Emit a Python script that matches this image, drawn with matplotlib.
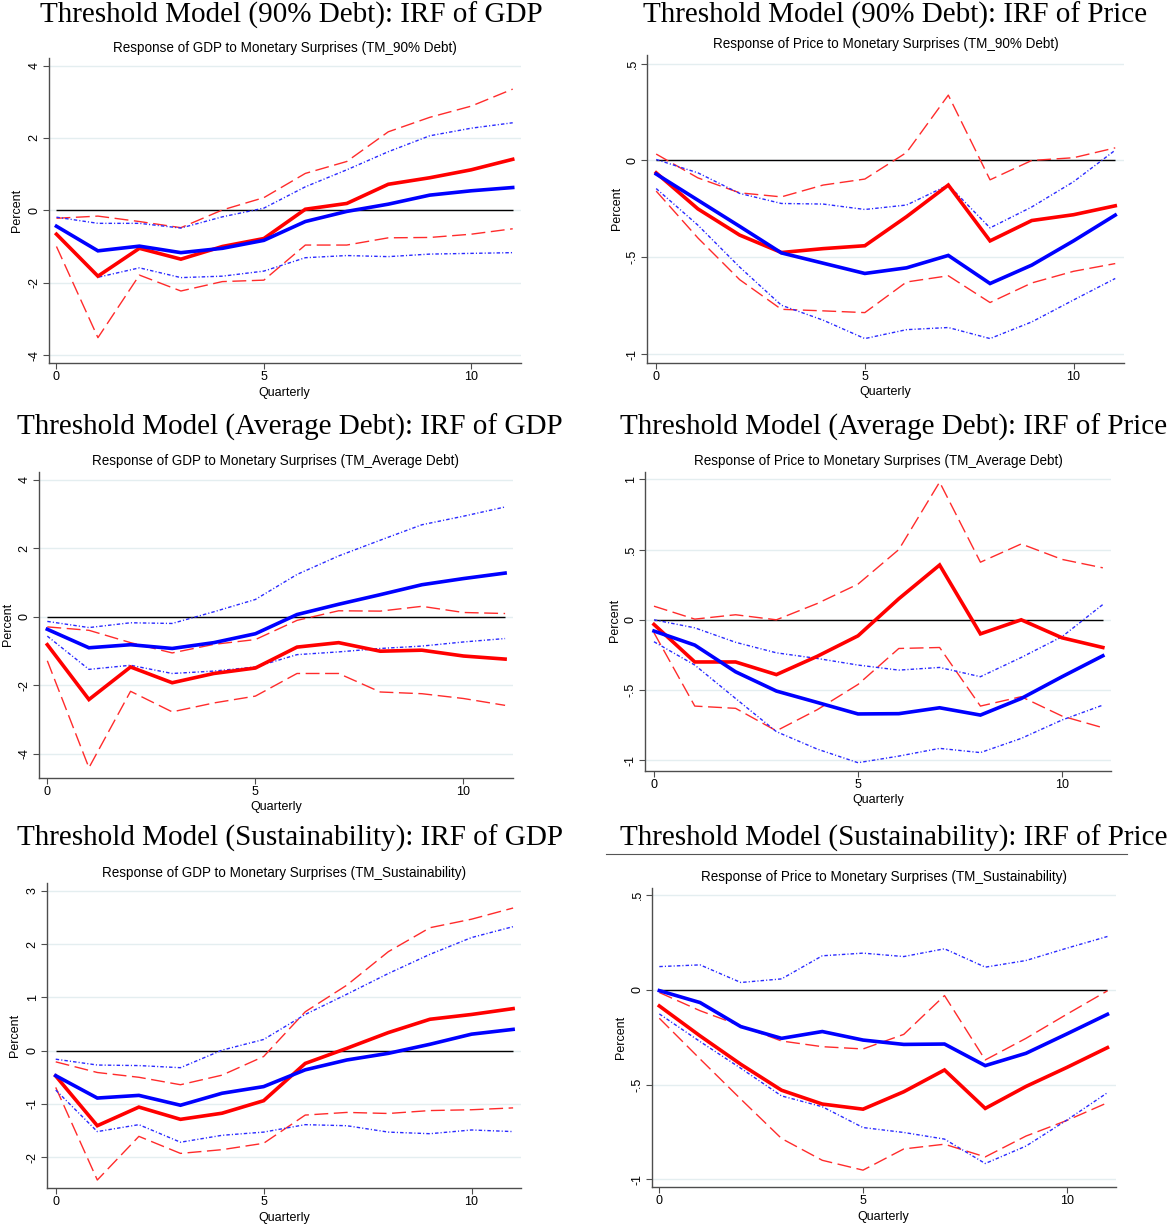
import matplotlib
matplotlib.use("Agg")
import matplotlib.pyplot as plt

W, H = 1170, 1225

quarters = list(range(12))

# ---- 90% debt, GDP ----
gdp90_red = [-0.66, -1.82, -1.05, -1.35, -1.0, -0.78, 0.03, 0.19, 0.72, 0.90, 1.12, 1.41]
gdp90_red_hi = [-0.22, -0.16, -0.31, -0.48, 0.01, 0.35, 1.02, 1.35, 2.17, 2.57, 2.88, 3.35]
gdp90_red_lo = [-1.0, -3.52, -1.79, -2.23, -1.97, -1.93, -0.96, -0.96, -0.76, -0.75, -0.66, -0.51]
gdp90_blue = [-0.44, -1.12, -0.99, -1.17, -1.05, -0.83, -0.31, -0.03, 0.17, 0.42, 0.54, 0.63]
gdp90_blue_hi = [-0.19, -0.36, -0.36, -0.49, -0.18, 0.06, 0.65, 1.12, 1.62, 2.06, 2.27, 2.42]
gdp90_blue_lo = [-0.64, -1.85, -1.59, -1.86, -1.82, -1.68, -1.31, -1.25, -1.28, -1.21, -1.19, -1.17]

# ---- 90% debt, Price ----
prc90_red = [-0.064, -0.25, -0.385, -0.475, -0.455, -0.44, -0.29, -0.127, -0.415, -0.31, -0.28, -0.234]
prc90_red_hi = [0.033, -0.09, -0.167, -0.188, -0.127, -0.096, 0.041, 0.337, -0.10, 0.0, 0.014, 0.065]
prc90_red_lo = [-0.158, -0.40, -0.615, -0.768, -0.776, -0.785, -0.627, -0.595, -0.733, -0.632, -0.572, -0.532]
prc90_blue = [-0.07, -0.205, -0.34, -0.477, -0.53, -0.583, -0.554, -0.49, -0.635, -0.54, -0.415, -0.282]
prc90_blue_hi = [0.005, -0.064, -0.17, -0.222, -0.225, -0.253, -0.23, -0.127, -0.348, -0.24, -0.11, 0.053]
prc90_blue_lo = [-0.145, -0.334, -0.55, -0.747, -0.824, -0.919, -0.873, -0.862, -0.919, -0.833, -0.72, -0.609]

# ---- Average debt, GDP ----
gdpavg_red = [-0.82, -2.42, -1.47, -1.93, -1.66, -1.50, -0.89, -0.76, -1.01, -0.98, -1.15, -1.24]
gdpavg_red_hi = [-0.30, -0.40, -0.76, -1.06, -0.81, -0.67, -0.11, 0.17, 0.16, 0.30, 0.12, 0.09]
gdpavg_red_lo = [-1.29, -4.41, -2.18, -2.78, -2.52, -2.32, -1.66, -1.66, -2.20, -2.25, -2.39, -2.59]
gdpavg_blue = [-0.37, -0.91, -0.82, -0.93, -0.76, -0.50, 0.06, 0.36, 0.64, 0.93, 1.11, 1.27]
gdpavg_blue_hi = [-0.14, -0.32, -0.18, -0.20, 0.14, 0.50, 1.23, 1.77, 2.23, 2.68, 2.93, 3.20]
gdpavg_blue_lo = [-0.57, -1.54, -1.42, -1.66, -1.59, -1.47, -1.11, -1.03, -0.93, -0.86, -0.74, -0.64]

# ---- Average debt, Price ----
prcavg_red = [-0.033, -0.30, -0.30, -0.39, -0.26, -0.114, 0.15, 0.39, -0.10, 0.0, -0.128, -0.197]
prcavg_red_hi = [0.097, 0.005, 0.036, 0.0, 0.116, 0.254, 0.50, 0.98, 0.41, 0.54, 0.43, 0.37]
prcavg_red_lo = [-0.092, -0.614, -0.63, -0.79, -0.64, -0.46, -0.204, -0.197, -0.614, -0.547, -0.685, -0.768]
prcavg_blue = [-0.08, -0.18, -0.37, -0.507, -0.588, -0.67, -0.668, -0.626, -0.678, -0.56, -0.405, -0.256]
prcavg_blue_hi = [0.0, -0.057, -0.16, -0.235, -0.275, -0.322, -0.358, -0.339, -0.405, -0.268, -0.12, 0.109]
prcavg_blue_lo = [-0.156, -0.322, -0.56, -0.796, -0.92, -1.017, -0.97, -0.915, -0.945, -0.844, -0.713, -0.607]

# ---- Sustainability, GDP ----
gdpsus_red = [-0.475, -1.41, -1.06, -1.29, -1.175, -0.94, -0.24, 0.044, 0.34, 0.59, 0.68, 0.79]
gdpsus_red_hi = [-0.21, -0.41, -0.50, -0.64, -0.46, -0.11, 0.73, 1.23, 1.86, 2.31, 2.47, 2.68]
gdpsus_red_lo = [-0.69, -2.43, -1.61, -1.93, -1.86, -1.74, -1.21, -1.16, -1.18, -1.125, -1.11, -1.075]
gdpsus_blue = [-0.47, -0.89, -0.84, -1.025, -0.80, -0.675, -0.36, -0.175, -0.05, 0.12, 0.31, 0.40]
gdpsus_blue_hi = [-0.16, -0.27, -0.28, -0.32, 0.01, 0.21, 0.68, 1.06, 1.45, 1.81, 2.125, 2.33]
gdpsus_blue_lo = [-0.74, -1.52, -1.39, -1.72, -1.59, -1.53, -1.39, -1.41, -1.53, -1.56, -1.49, -1.52]

# ---- Sustainability, Price ----
prcsus_red = [-0.085, -0.243, -0.393, -0.53, -0.603, -0.63, -0.538, -0.423, -0.626, -0.51, -0.41, -0.305]
prcsus_red_hi = [-0.014, -0.11, -0.19, -0.27, -0.30, -0.312, -0.235, -0.03, -0.37, -0.256, -0.129, -0.005]
prcsus_red_lo = [-0.15, -0.365, -0.577, -0.785, -0.90, -0.952, -0.84, -0.815, -0.882, -0.772, -0.69, -0.596]
prcsus_blue = [-0.004, -0.067, -0.194, -0.256, -0.22, -0.265, -0.288, -0.286, -0.40, -0.335, -0.233, -0.129]
prcsus_blue_hi = [0.123, 0.132, 0.039, 0.058, 0.18, 0.194, 0.176, 0.217, 0.12, 0.155, 0.22, 0.282]
prcsus_blue_lo = [-0.127, -0.273, -0.414, -0.56, -0.617, -0.727, -0.753, -0.788, -0.917, -0.825, -0.688, -0.543]

big_titles = [
    "Threshold Model (90% Debt): IRF of GDP",
    "Threshold Model (90% Debt): IRF of Price",
    "Threshold Model (Average Debt): IRF of GDP",
    "Threshold Model (Average Debt): IRF of Price",
    "Threshold Model (Sustainability): IRF of GDP",
    "Threshold Model (Sustainability): IRF of Price",
]
inner_titles = [
    "Response of GDP to Monetary Surprises (TM_90% Debt)",
    "Response of Price to Monetary Surprises (TM_90% Debt)",
    "Response of GDP to Monetary Surprises (TM_Average Debt)",
    "Response of Price to Monetary Surprises (TM_Average Debt)",
    "Response of GDP to Monetary Surprises (TM_Sustainability)",
    "Response of Price to Monetary Surprises (TM_Sustainability)",
]
gdp_ticks_a = [-4, -2, 0, 2, 4]
gdp_ticks_c = [-2, -1, 0, 1, 2, 3]
price_ticks_a = [-1, -0.5, 0, 0.5]
price_ticks_b = [-1, -0.5, 0, 0.5, 1]

series = [
    (gdp90_red, gdp90_red_hi, gdp90_red_lo, gdp90_blue, gdp90_blue_hi, gdp90_blue_lo),
    (prc90_red, prc90_red_hi, prc90_red_lo, prc90_blue, prc90_blue_hi, prc90_blue_lo),
    (gdpavg_red, gdpavg_red_hi, gdpavg_red_lo, gdpavg_blue, gdpavg_blue_hi, gdpavg_blue_lo),
    (prcavg_red, prcavg_red_hi, prcavg_red_lo, prcavg_blue, prcavg_blue_hi, prcavg_blue_lo),
    (gdpsus_red, gdpsus_red_hi, gdpsus_red_lo, gdpsus_blue, gdpsus_blue_hi, gdpsus_blue_lo),
    (prcsus_red, prcsus_red_hi, prcsus_red_lo, prcsus_blue, prcsus_blue_hi, prcsus_blue_lo),
]
yticks = [gdp_ticks_a, price_ticks_a, gdp_ticks_a, price_ticks_b, gdp_ticks_c, price_ticks_a]

# layout in pixels: axes box (left, right, top, bottom), limits, and text anchors
layout = [
    dict(box=(49, 521, 58, 363), xlim=(-0.18, 11.2), ylim=(-4.22, 4.21),
         tx=291, ty=15, sx=285, sy=48, px=17, py=210, qx=284, qy=393),
    dict(box=(647, 1124, 55, 363), xlim=(-0.22, 11.21), ylim=(-1.045, 0.544),
         tx=895, ty=15, sx=886, sy=44, px=617, py=208, qx=885, qy=392),
    dict(box=(39, 513, 472, 778), xlim=(-0.2, 11.19), ylim=(-4.71, 4.22),
         tx=290, ty=427, sx=276, sy=461, px=8, py=624, qx=276, qy=807),
    dict(box=(645, 1111, 472, 771), xlim=(-0.22, 11.2), ylim=(-1.076, 1.052),
         tx=894, ty=427, sx=878, sy=461, px=615, py=620, qx=878, qy=800),
    dict(box=(47, 521, 883, 1188), xlim=(-0.21, 11.19), ylim=(-2.58, 3.15),
         tx=290, ty=838, sx=284, sy=873, px=15, py=1035, qx=284, qy=1218),
    dict(box=(652, 1116, 888, 1187), xlim=(-0.18, 11.21), ylim=(-1.041, 0.538),
         tx=894, ty=838, sx=884, sy=877, px=621, py=1037, qx=883, qy=1217),
]

SANS = "Liberation Sans"
SERIF = "Liberation Serif"
AXIS_GREY = "#4d4d4d"


def fmt_tick(v):
    s = ("%g" % v)
    s = s.replace("0.", ".")
    return s


def fx(px):
    return px / W


def fy(py):
    return 1 - py / H


def draw_panel(fig, lay, data, ticks, big_title, inner_title):
    l, r, t, b = lay["box"]
    ax = fig.add_axes([fx(l), fy(b), (r - l) / W, (b - t) / H])
    red, red_hi, red_lo, blue, blue_hi, blue_lo = data

    for v in ticks:
        ax.axhline(v, color="#e4eef0", lw=1.0, zorder=0)
    ax.hlines(0, quarters[0], quarters[-1], color="black", lw=1.0, zorder=1)
    ax.plot(quarters, red_hi, color="#ff2b2b", lw=1.0, dashes=(10, 4), zorder=2)
    ax.plot(quarters, red_lo, color="#ff2b2b", lw=1.0, dashes=(10, 4), zorder=2)
    ax.plot(quarters, blue_hi, color="#2a2aff", lw=1.0, dashes=(2.5, 1.5, 0.8, 1.5), zorder=2)
    ax.plot(quarters, blue_lo, color="#2a2aff", lw=1.0, dashes=(2.5, 1.5, 0.8, 1.5), zorder=2)
    ax.plot(quarters, red, color="#ff0000", lw=2.6, zorder=3, solid_joinstyle="miter")
    ax.plot(quarters, blue, color="#0000ff", lw=2.6, zorder=3, solid_joinstyle="miter")

    ax.set_xlim(*lay["xlim"])
    ax.set_ylim(*lay["ylim"])
    ax.set_xticks([0, 5, 10])
    ax.set_yticks(ticks)
    ax.set_yticklabels([fmt_tick(v) for v in ticks], rotation=90, va="center",
                       fontsize=9, family=SANS)
    ax.set_xticklabels(["0", "5", "10"], fontsize=9, family=SANS)
    ax.tick_params(direction="out", length=4, width=0.8, color=AXIS_GREY, pad=2)
    for side in ("top", "right"):
        ax.spines[side].set_visible(False)
    for side in ("left", "bottom"):
        ax.spines[side].set_color(AXIS_GREY)
        ax.spines[side].set_linewidth(1.0)

    fig.text(fx(lay["tx"]), fy(lay["ty"]), big_title, ha="center", va="center",
             fontsize=21, family=SERIF)
    fig.text(fx(lay["sx"]), fy(lay["sy"]), inner_title, ha="center", va="center",
             fontsize=9.75, family=SANS)
    fig.text(fx(lay["px"]), fy(lay["py"]), "Percent", ha="center", va="center",
             rotation=90, fontsize=9, family=SANS)
    fig.text(fx(lay["qx"]), fy(lay["qy"]), "Quarterly", ha="center", va="center",
             fontsize=9, family=SANS)
    return ax


fig = plt.figure(figsize=(W / 100, H / 100), dpi=100)
fig.patch.set_facecolor("white")

for i in range(6):
    draw_panel(fig, layout[i], series[i], yticks[i], big_titles[i], inner_titles[i])

# rule under the last big title
fig.add_artist(plt.Line2D([fx(606), fx(1127)], [fy(854), fy(854)], color="#555555", lw=0.8))

fig.savefig("out.png", dpi=100)
